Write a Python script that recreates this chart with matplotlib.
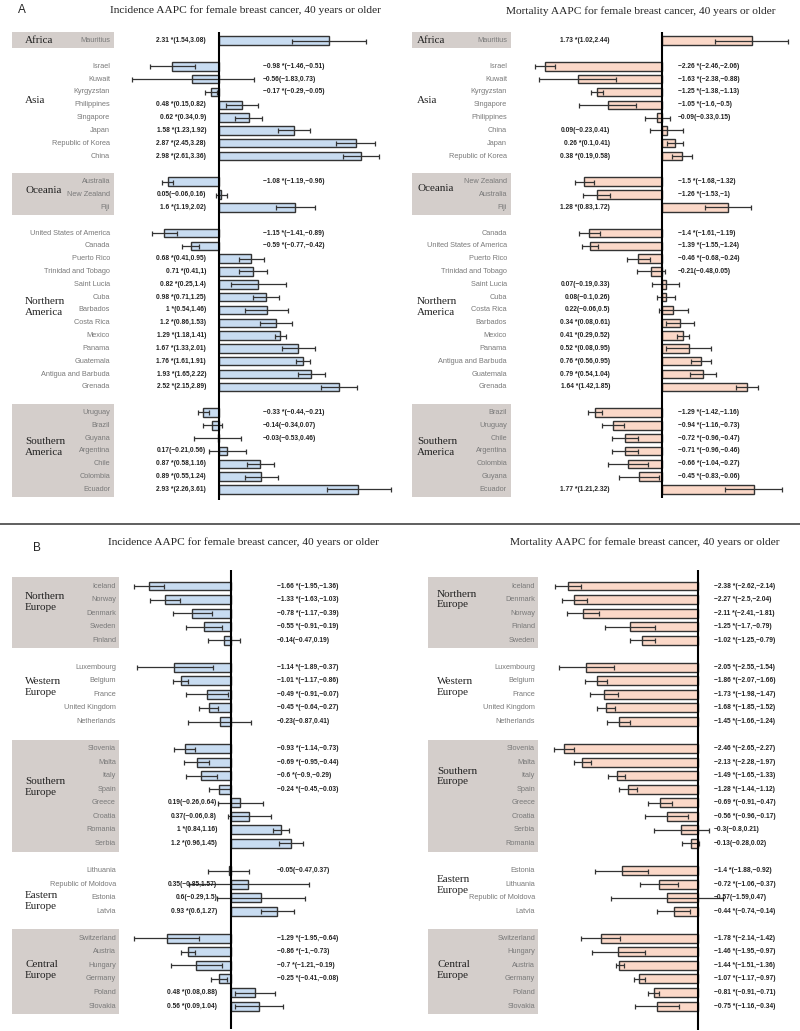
import matplotlib
matplotlib.use("Agg")
import matplotlib.pyplot as plt
from matplotlib.patches import Rectangle
from matplotlib.lines import Line2D

W, H = 800, 1031

# ---------------- DATA ----------------
# Panel A, incidence
A_inc_groups = ["Africa", "Asia", "Oceania", "Northern\nAmerica", "Southern\nAmerica"]
A_inc_countries = [
    ["Mauritius"],
    ["Israel", "Kuwait", "Kyrgyzstan", "Philippines", "Singapore", "Japan", "Republic of Korea", "China"],
    ["Australia", "New Zealand", "Fiji"],
    ["United States of America", "Canada", "Puerto Rico", "Trinidad and Tobago", "Saint Lucia", "Cuba",
     "Barbados", "Costa Rica", "Mexico", "Panama", "Guatemala", "Antigua and Barbuda", "Grenada"],
    ["Uruguay", "Brazil", "Guyana", "Argentina", "Chile", "Colombia", "Ecuador"],
]
A_inc_aapc = [
    [2.31],
    [-0.98, -0.56, -0.17, 0.48, 0.62, 1.58, 2.87, 2.98],
    [-1.08, 0.05, 1.6],
    [-1.15, -0.59, 0.68, 0.71, 0.82, 0.98, 1.0, 1.2, 1.29, 1.67, 1.76, 1.93, 2.52],
    [-0.33, -0.14, -0.03, 0.17, 0.87, 0.89, 2.93],
]
A_inc_lo = [
    [1.54],
    [-1.46, -1.83, -0.29, 0.15, 0.34, 1.23, 2.45, 2.61],
    [-1.19, -0.06, 1.19],
    [-1.41, -0.77, 0.41, 0.41, 0.25, 0.71, 0.54, 0.86, 1.18, 1.33, 1.61, 1.65, 2.15],
    [-0.44, -0.34, -0.53, -0.21, 0.58, 0.55, 2.26],
]
A_inc_hi = [
    [3.08],
    [-0.51, 0.73, -0.05, 0.82, 0.9, 1.92, 3.28, 3.36],
    [-0.96, 0.16, 2.02],
    [-0.89, -0.42, 0.95, 1.0, 1.4, 1.25, 1.46, 1.53, 1.41, 2.01, 1.91, 2.22, 2.89],
    [-0.21, 0.07, 0.46, 0.56, 1.16, 1.24, 3.61],
]

# Panel A, mortality
A_mor_groups = ["Africa", "Asia", "Oceania", "Northern\nAmerica", "Southern\nAmerica"]
A_mor_countries = [
    ["Mauritius"],
    ["Israel", "Kuwait", "Kyrgyzstan", "Singapore", "Philippines", "China", "Japan", "Republic of Korea"],
    ["New Zealand", "Australia", "Fiji"],
    ["Canada", "United States of America", "Puerto Rico", "Trinidad and Tobago", "Saint Lucia", "Cuba",
     "Costa Rica", "Barbados", "Mexico", "Panama", "Antigua and Barbuda", "Guatemala", "Grenada"],
    ["Brazil", "Uruguay", "Chile", "Argentina", "Colombia", "Guyana", "Ecuador"],
]
A_mor_aapc = [
    [1.73],
    [-2.26, -1.63, -1.25, -1.05, -0.09, 0.09, 0.26, 0.38],
    [-1.5, -1.26, 1.28],
    [-1.4, -1.39, -0.46, -0.21, 0.07, 0.08, 0.22, 0.34, 0.41, 0.52, 0.76, 0.79, 1.64],
    [-1.29, -0.94, -0.72, -0.71, -0.66, -0.45, 1.77],
]
A_mor_lo = [
    [1.02],
    [-2.46, -2.38, -1.38, -1.6, -0.33, -0.23, 0.1, 0.19],
    [-1.68, -1.53, 0.83],
    [-1.61, -1.55, -0.68, -0.48, -0.19, -0.1, -0.06, 0.08, 0.29, 0.08, 0.56, 0.54, 1.42],
    [-1.42, -1.16, -0.96, -0.96, -1.04, -0.83, 1.21],
]
A_mor_hi = [
    [2.44],
    [-2.06, -0.88, -1.13, -0.5, 0.15, 0.41, 0.41, 0.58],
    [-1.32, -1.0, 1.72],
    [-1.19, -1.24, -0.24, 0.05, 0.33, 0.26, 0.5, 0.61, 0.52, 0.95, 0.95, 1.04, 1.85],
    [-1.16, -0.73, -0.47, -0.46, -0.27, -0.06, 2.32],
]

# Panel B, incidence
B_inc_groups = ["Northern\nEurope", "Western\nEurope", "Southern\nEurope", "Eastern\nEurope", "Central\nEurope"]
B_inc_countries = [
    ["Iceland", "Norway", "Denmark", "Sweden", "Finland"],
    ["Luxembourg", "Belgium", "France", "United Kingdom", "Netherlands"],
    ["Slovenia", "Malta", "Italy", "Spain", "Greece", "Croatia", "Romania", "Serbia"],
    ["Lithuania", "Republic of Moldova", "Estonia", "Latvia"],
    ["Switzerland", "Austria", "Hungary", "Germany", "Poland", "Slovakia"],
]
B_inc_aapc = [
    [-1.66, -1.33, -0.78, -0.55, -0.14],
    [-1.14, -1.01, -0.49, -0.45, -0.23],
    [-0.93, -0.69, -0.6, -0.24, 0.19, 0.37, 1.0, 1.2],
    [-0.05, 0.35, 0.6, 0.93],
    [-1.29, -0.86, -0.7, -0.25, 0.48, 0.56],
]
B_inc_lo = [
    [-1.95, -1.63, -1.17, -0.91, -0.47],
    [-1.89, -1.17, -0.91, -0.64, -0.87],
    [-1.14, -0.95, -0.9, -0.45, -0.26, -0.06, 0.84, 0.96],
    [-0.47, -0.85, -0.29, 0.6],
    [-1.95, -1.0, -1.21, -0.41, 0.08, 0.09],
]
B_inc_hi = [
    [-1.36, -1.03, -0.39, -0.19, 0.19],
    [-0.37, -0.86, -0.07, -0.27, 0.41],
    [-0.73, -0.44, -0.29, -0.03, 0.64, 0.8, 1.16, 1.45],
    [0.37, 1.57, 1.5, 1.27],
    [-0.64, -0.73, -0.19, -0.08, 0.88, 1.04],
]

# Panel B, mortality
B_mor_groups = ["Northern\nEurope", "Western\nEurope", "Southern\nEurope", "Eastern\nEurope", "Central\nEurope"]
B_mor_countries = [
    ["Iceland", "Denmark", "Norway", "Finland", "Sweden"],
    ["Luxembourg", "Belgium", "France", "United Kingdom", "Netherlands"],
    ["Slovenia", "Malta", "Italy", "Spain", "Greece", "Croatia", "Serbia", "Romania"],
    ["Estonia", "Lithuania", "Republic of Moldova", "Latvia"],
    ["Switzerland", "Hungary", "Austria", "Germany", "Poland", "Slovakia"],
]
B_mor_aapc = [
    [-2.38, -2.27, -2.11, -1.25, -1.02],
    [-2.05, -1.86, -1.73, -1.68, -1.45],
    [-2.46, -2.13, -1.49, -1.28, -0.69, -0.56, -0.3, -0.13],
    [-1.4, -0.72, -0.57, -0.44],
    [-1.78, -1.46, -1.44, -1.07, -0.81, -0.75],
]
B_mor_lo = [
    [-2.62, -2.5, -2.41, -1.7, -1.25],
    [-2.55, -2.07, -1.98, -1.85, -1.66],
    [-2.65, -2.28, -1.65, -1.44, -0.91, -0.96, -0.8, -0.28],
    [-1.88, -1.06, -1.59, -0.74],
    [-2.14, -1.95, -1.51, -1.17, -0.91, -1.16],
]
B_mor_hi = [
    [-2.14, -2.04, -1.81, -0.79, -0.79],
    [-1.54, -1.66, -1.47, -1.52, -1.24],
    [-2.27, -1.97, -1.33, -1.12, -0.47, -0.17, 0.21, 0.02],
    [-0.92, -0.37, 0.47, -0.14],
    [-1.42, -0.97, -1.36, -0.97, -0.71, -0.34],
]

TITLE_INC = "Incidence AAPC for female breast cancer, 40 years or older"
TITLE_MOR = "Mortality AAPC for female breast cancer, 40 years or older"

# ---------------- STYLE ----------------
BLUE = "#c8dcf1"
PINK = "#fbd8c8"
BOXC = "#d4cecb"
EDGE = "#333333"
SERIF = ["Liberation Serif", "DejaVu Serif"]
SANS = ["Liberation Sans", "DejaVu Sans"]

fig = plt.figure(figsize=(W / 100, H / 100), dpi=100)


def fmt(v):
    return f"{v:g}".replace("-", "\u2212")


def draw_panel(groups, countries, aapc, lo, hi, fill, *, px_left, px_right, py_top, py_bot,
               zero_px, scale, row0_px, row_px, line_top, line_bot, box_x0, box_x1,
               country_x, group_x, pos_label_x, neg_label_x, group_offsets):
    ax = fig.add_axes([px_left / W, 1 - py_bot / H, (px_right - px_left) / W, (py_bot - py_top) / H])
    fx = lambda px: (px - zero_px) / scale
    fy = lambda py: (py - row0_px) / row_px
    ax.set_xlim(fx(px_left), fx(px_right))
    ax.set_ylim(fy(py_bot), fy(py_top))
    ax.axis("off")

    row = 0
    for gi, (g, cs, vs, ls, hs) in enumerate(zip(groups, countries, aapc, lo, hi)):
        rows = list(range(row, row + len(cs)))
        if gi % 2 == 0:
            y0 = rows[0] - 0.65
            y1 = rows[-1] + 0.6
            ax.add_patch(Rectangle((fx(box_x0), y0), fx(box_x1) - fx(box_x0), y1 - y0,
                                   facecolor=BOXC, edgecolor="none", zorder=0))
        ax.barh(rows, vs, height=0.66, color=fill, edgecolor=EDGE, linewidth=1.0, zorder=2)
        xerr = [[v - l for v, l in zip(vs, ls)], [h - v for v, h in zip(vs, hs)]]
        ax.errorbar(vs, rows, xerr=xerr, fmt="none", ecolor=EDGE, elinewidth=0.9,
                    capsize=1.8, capthick=0.9, zorder=3)
        for r, c, v, l, h in zip(rows, cs, vs, ls, hs):
            ax.text(fx(country_x), r, c, ha="right", va="center", fontsize=5.3,
                    color="#7a7a7a", family=SANS, zorder=4)
            star = " *" if (l > 0 or h < 0) else ""
            lab = f"{fmt(v)}{star}({fmt(l)},{fmt(h)})"
            if v >= 0:
                ax.text(fx(pos_label_x), r, lab, ha="right", va="center", fontsize=4.8,
                        fontweight="bold", color="#222222", family=SANS, zorder=4)
            else:
                ax.text(fx(neg_label_x), r, lab, ha="left", va="center", fontsize=4.8,
                        fontweight="bold", color="#222222", family=SANS, zorder=4)
        gc = (rows[0] + rows[-1]) / 2 + group_offsets[gi]
        ax.text(fx(group_x), gc, g, ha="left", va="center", fontsize=8, color="#222222",
                family=SERIF, linespacing=1.25, zorder=4)
        row += len(cs) + 1

    ax.vlines(0, fy(line_top), fy(line_bot), color="black", linewidth=1.5, zorder=5)
    return ax


# Panel A left
draw_panel(A_inc_groups, A_inc_countries, A_inc_aapc, A_inc_lo, A_inc_hi, BLUE,
           px_left=0, px_right=400, py_top=25, py_bot=510, zero_px=219, scale=47.6,
           row0_px=40.7, row_px=12.82, line_top=32, line_bot=500, box_x0=12, box_x1=114,
           country_x=110, group_x=25, pos_label_x=206, neg_label_x=263,
           group_offsets=[0, -0.8, -0.35, -0.2, -0.33])
# Panel A right
draw_panel(A_mor_groups, A_mor_countries, A_mor_aapc, A_mor_lo, A_mor_hi, PINK,
           px_left=400, px_right=800, py_top=25, py_bot=510, zero_px=662, scale=51.8,
           row0_px=40.7, row_px=12.82, line_top=32, line_bot=498, box_x0=412, box_x1=511,
           country_x=507, group_x=417, pos_label_x=610, neg_label_x=678,
           group_offsets=[0, -0.8, -0.5, -0.2, -0.33])
# Panel B left
draw_panel(B_inc_groups, B_inc_countries, B_inc_aapc, B_inc_lo, B_inc_hi, BLUE,
           px_left=0, px_right=400, py_top=560, py_bot=1031, zero_px=231, scale=49.6,
           row0_px=586, row_px=13.55, line_top=570, line_bot=1029, box_x0=12, box_x1=119,
           country_x=116, group_x=25, pos_label_x=217, neg_label_x=277,
           group_offsets=[-0.8, -0.57, -0.64, 0.72, -0.15])
# Panel B right
draw_panel(B_mor_groups, B_mor_countries, B_mor_aapc, B_mor_lo, B_mor_hi, PINK,
           px_left=400, px_right=800, py_top=560, py_bot=1031, zero_px=697.7, scale=54.4,
           row0_px=586, row_px=13.55, line_top=570, line_bot=1030, box_x0=428, box_x1=538,
           country_x=535, group_x=437, pos_label_x=680, neg_label_x=714,
           group_offsets=[-1.0, -0.55, -1.45, -0.44, -0.15])

# Titles and panel letters
def ftext(px, py, s, **kw):
    fig.text(px / W, 1 - py / H, s, **kw)

ftext(245, 10, TITLE_INC, ha="center", va="center", fontsize=8.2, family=SERIF, color="#222222")
ftext(641, 11, TITLE_MOR, ha="center", va="center", fontsize=8.2, family=SERIF, color="#222222")
ftext(243, 542, TITLE_INC, ha="center", va="center", fontsize=8.2, family=SERIF, color="#222222")
ftext(645, 542, TITLE_MOR, ha="center", va="center", fontsize=8.2, family=SERIF, color="#222222")
ftext(18, 10, "A", ha="left", va="center", fontsize=8.5, family=SANS, color="#222222")
ftext(33, 548, "B", ha="left", va="center", fontsize=8.5, family=SANS, color="#222222")

fig.add_artist(Line2D([0, 1], [1 - 524 / H, 1 - 524 / H], transform=fig.transFigure,
                      color="#444444", linewidth=1.2))

fig.savefig("out.png", dpi=100, facecolor="white")
